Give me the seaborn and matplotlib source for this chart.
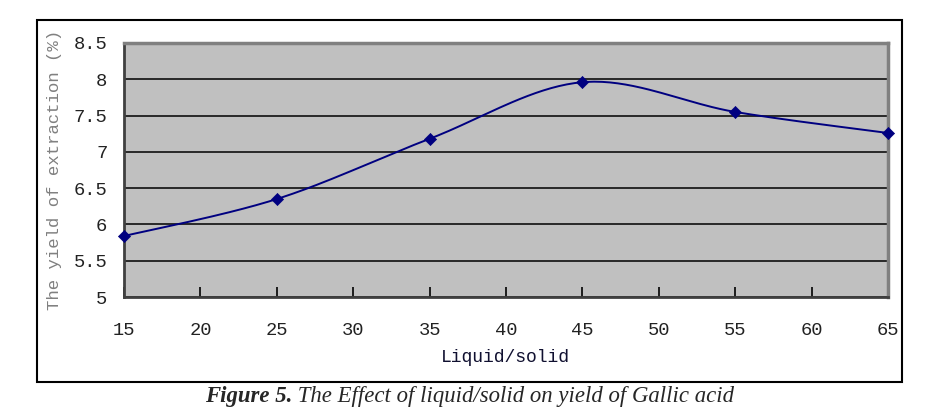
import numpy as np
import pandas as pd
import matplotlib
matplotlib.use("Agg")
import matplotlib.pyplot as plt
from matplotlib.patches import Rectangle
import seaborn as sns

# data
ratio = [15, 25, 35, 45, 55, 65]
yield_pct = [5.84, 6.35, 7.18, 7.96, 7.55, 7.26]
xticks = [15, 20, 25, 30, 35, 40, 45, 50, 55, 60, 65]
yticks = [5, 5.5, 6, 6.5, 7, 7.5, 8, 8.5]
ytick_labels = ["5", "5.5", "6", "6.5", "7", "7.5", "8", "8.5"]

XMIN, XMAX, YMIN, YMAX = 15, 65, 5, 8.5


def smooth_curve(xs, ys, n=40):
    # Excel-like smoothed line: cubic Bezier with Catmull-Rom control points,
    # computed in normalised axes space
    px = (np.asarray(xs, float) - XMIN) / (XMAX - XMIN) * 764
    py = (np.asarray(ys, float) - YMIN) / (YMAX - YMIN) * 254
    P = np.column_stack([px, py])
    pts = []
    m = len(P)
    for i in range(m - 1):
        p0 = P[i - 1] if i > 0 else P[i]
        p1 = P[i]
        p2 = P[i + 1]
        p3 = P[i + 2] if i + 2 < m else P[i + 1]
        c1 = p1 + (p2 - p0) / 6.0
        c2 = p2 - (p3 - p1) / 6.0
        t = np.linspace(0, 1, n)[:, None]
        seg = ((1 - t) ** 3) * p1 + 3 * ((1 - t) ** 2) * t * c1 + 3 * (1 - t) * t ** 2 * c2 + t ** 3 * p2
        pts.append(seg if i == 0 else seg[1:])
    pts = np.vstack(pts)
    cx = pts[:, 0] / 764 * (XMAX - XMIN) + XMIN
    cy = pts[:, 1] / 254 * (YMAX - YMIN) + YMIN
    return cx, cy


sns.set_style("white")
plt.rcParams["font.family"] = ["Liberation Mono", "DejaVu Sans"]

fig = plt.figure(figsize=(9.42, 4.11), dpi=100)
ax = fig.add_axes([124 / 942, 1 - 297 / 411, (888 - 124) / 942, (297 - 43) / 411])
ax.set_facecolor("#C0C0C0")

cx, cy = smooth_curve(ratio, yield_pct)
curve = pd.DataFrame({"x": cx, "y": cy})
sns.lineplot(data=curve, x="x", y="y", sort=False, estimator=None, color="#000080",
             linewidth=1.4, ax=ax, zorder=3)
pts = pd.DataFrame({"ratio": ratio, "yield": yield_pct})
sns.scatterplot(data=pts, x="ratio", y="yield", marker="D", s=38, color="#000080",
                edgecolor="#000080", linewidth=0.5, ax=ax, zorder=4, clip_on=False)

ax.set_xlim(XMIN, XMAX)
ax.set_ylim(YMIN, YMAX)
ax.set_xticks(xticks)
ax.set_xticklabels([str(v) for v in xticks])
ax.set_yticks(yticks)
ax.set_yticklabels(ytick_labels)
ax.yaxis.grid(True, color="black", linewidth=1.1)
ax.xaxis.grid(False)
ax.set_axisbelow(True)

ax.tick_params(axis="x", direction="in", length=7, width=1.2, color="black",
               pad=18, labelsize=13.5, labelcolor="#222222", bottom=True)
ax.tick_params(axis="y", length=0, pad=12, labelsize=13.5, labelcolor="#222222")

for side in ["left", "bottom"]:
    ax.spines[side].set_color("#404040")
    ax.spines[side].set_linewidth(2)
for side in ["top", "right"]:
    ax.spines[side].set_color("#808080")
    ax.spines[side].set_linewidth(2.5)

ax.set_xlabel("Liquid/solid", fontsize=13, color="#101030")
ax.set_ylabel("The yield of extraction (%)", fontsize=12.5, color="#808080")
ax.xaxis.set_label_coords(0.499, (297 - 357) / 254)
ax.yaxis.set_label_coords((55 - 124) / 764, 0.5)
ax.xaxis.label.set_va("center")
ax.yaxis.label.set_va("center")

# outer frame
fig.patches.append(Rectangle((37 / 942, 1 - 382 / 411), (902 - 37) / 942, (382 - 20) / 411,
                             transform=fig.transFigure, fill=False, edgecolor="black",
                             linewidth=1.5, zorder=0))

cap_y = 1 - 396 / 411
t1 = fig.text(205 / 942, cap_y, "Figure 5.", ha="left", va="center", fontsize=16.4,
              family="Liberation Serif", style="italic", weight="bold")
fig.canvas.draw()
bb = t1.get_window_extent(renderer=fig.canvas.get_renderer())
x_after = bb.x1 / fig.bbox.width
fig.text(x_after, cap_y, " The Effect of liquid/solid on yield of Gallic acid",
         ha="left", va="center", fontsize=16.4, family="Liberation Serif", style="italic")

fig.savefig("out.png", dpi=100)
